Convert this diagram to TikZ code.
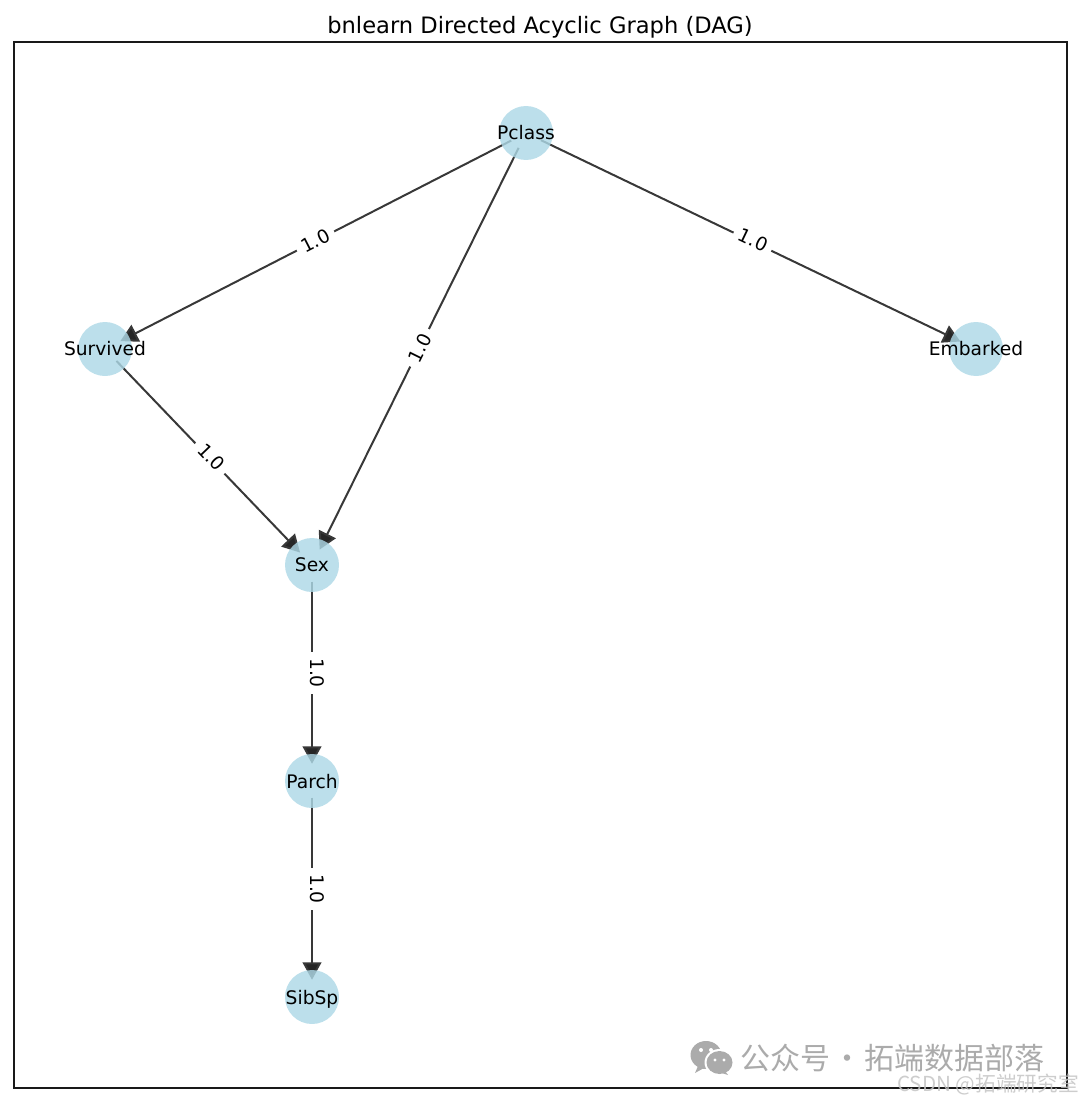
\documentclass[tikz,border=0pt]{standalone}
\usepackage{fontspec}
\setmainfont{DejaVu Sans}
\newfontfamily\cjkfont{Noto Sans CJK SC}
\usetikzlibrary{arrows.meta}
\pgfdeclarelayer{edges}
\pgfsetlayers{edges,main}
\definecolor{nodeblue}{HTML}{ADD8E6}
\definecolor{edgegray}{HTML}{383838}
\definecolor{markgray}{HTML}{ABABAB}
\definecolor{csdngray}{HTML}{C4C4C4}
\tikzset{
  vertex/.style={circle,inner sep=0pt,minimum size=40.5pt,fill=nodeblue,fill opacity=.82,text opacity=1,font=\fontsize{14}{14}\selectfont},
  edgeline/.style={draw=edgegray,line width=1.5pt,shorten >=-7.5pt,shorten <=-8pt,-{Triangle[length=13pt,width=14pt,fill=black!85]}},
  weight/.style={fill=white,inner xsep=4.5pt,inner ysep=2.5pt,font=\fontsize{14}{14}\selectfont,midway},
  wmtext/.style={font=\cjkfont\fontsize{22.5}{22.5}\selectfont,text=markgray,inner sep=0pt,anchor=west},
}
\newcommand{\lbl}[1]{\makebox[0pt][c]{\raisebox{0pt}[\height][0pt]{#1}}}
\begin{document}
\begin{tikzpicture}[x=0.75pt,y=-0.75pt]
\useasboundingbox (0,0) rectangle (1080,1102);
\node[inner sep=0pt,font=\fontsize{16.95}{16.95}\selectfont] (title) at (540,27) {bnlearn Directed Acyclic Graph (DAG)};
\node[draw=black!90,line width=1.1pt,minimum width=789.75pt,minimum height=784.5pt,inner sep=0pt] (frame) at (540.5,565) {};
\node[vertex] (P) at (526,133) {\lbl{\raisebox{.7pt}{Pclass}}};
\node[vertex] (Su) at (105,349) {\lbl{\raisebox{.7pt}{Survived}}};
\node[vertex] (E) at (976,349) {\lbl{\raisebox{.7pt}{Embarked}}};
\node[vertex] (Se) at (312,565) {\lbl{Sex}};
\node[vertex] (Pa) at (312,781) {\lbl{Parch}};
\node[vertex] (Si) at (312,997) {\lbl{SibSp}};
\begin{pgfonlayer}{edges}
\draw[edgeline] (P) -- node[weight,rotate=27.2] (w1) {1.0} (Su);
\draw[edgeline] (P) -- node[weight,rotate=63.7,xshift=1pt] (w2) {1.0} (Se);
\draw[edgeline] (P) -- node[weight,rotate=-25.6,xshift=1.2pt,yshift=1.5pt] (w3) {1.0} (E);
\draw[edgeline] (Su) -- node[weight,rotate=-46.2,xshift=1.5pt,yshift=1.5pt] (w4) {1.0} (Se);
\draw[edgeline] (Se) -- node[weight,rotate=-90,yshift=3.75pt] (w5) {1.0} (Pa);
\draw[edgeline] (Pa) -- node[weight,rotate=-90,yshift=3.75pt] (w6) {1.0} (Si);
\end{pgfonlayer}
% watermark
\fill[markgray] (706,1055) ellipse (15.5 and 14);
\fill[markgray] (698,1066) -- (695,1073) -- (704,1068) -- cycle;
\fill[white] (719.5,1062.5) ellipse (15 and 13.5);
\fill[markgray] (719.5,1062.5) ellipse (13 and 11.5);
\fill[markgray] (725,1071) -- (728,1075) -- (719,1072) -- cycle;
\fill[white] (701,1050) circle (2) (711,1050) circle (2) (715,1060) circle (1.7) (724,1060) circle (1.7);
\node[wmtext] (wm) at (740,1058) {公众号\kern1.5pt·\kern1.5pt拓端数据部落};
\node[inner sep=0pt,anchor=east,text=csdngray,text opacity=.85,font=\cjkfont\fontsize{15.5}{15.5}\selectfont] (csdn) at (1079,1084) {CSDN @拓端研究室};
\end{tikzpicture}
\end{document}
